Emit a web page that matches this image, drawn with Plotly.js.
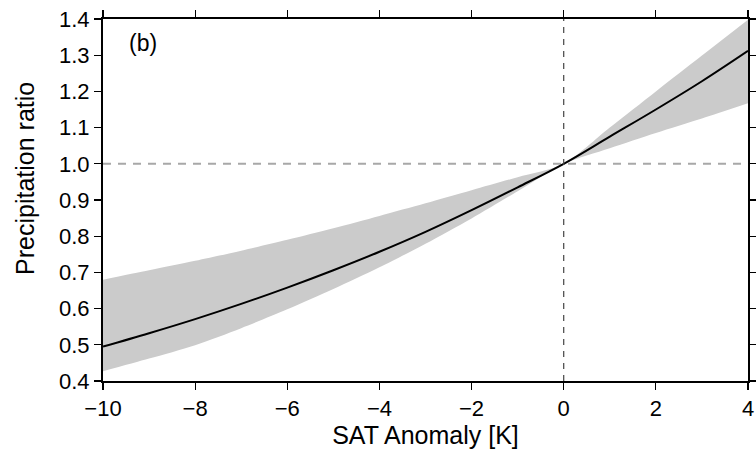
<!DOCTYPE html>
<html>
<head>
<meta charset="utf-8">
<script src="https://cdn.plot.ly/plotly-3.0.1.min.js"></script>
<style>html,body{margin:0;padding:0;background:#fff;}#chart{width:756px;height:452px;}</style>
</head>
<body>
<div id="chart"></div>
<script>
var satAnomaly = [-10, -9, -8, -7, -6, -5, -4, -3, -2, -1, 0, 1, 2, 3, 4];
var ratioMean  = [0.495, 0.532, 0.571, 0.613, 0.658, 0.706, 0.757, 0.812, 0.872, 0.935, 1.000, 1.075, 1.150, 1.228, 1.312];
var ratioUpper = [0.680, 0.706, 0.732, 0.760, 0.790, 0.822, 0.856, 0.891, 0.927, 0.963, 1.000, 1.100, 1.200, 1.299, 1.398];
var ratioLower = [0.427, 0.462, 0.499, 0.546, 0.598, 0.654, 0.714, 0.779, 0.849, 0.924, 1.000, 1.043, 1.085, 1.125, 1.167];
var xTicks = [-10, -8, -6, -4, -2, 0, 2, 4];
var yTicks = [0.4, 0.5, 0.6, 0.7, 0.8, 0.9, 1.0, 1.1, 1.2, 1.3, 1.4];
var panelLabel = "(b)";
var xTitle = "SAT Anomaly [K]";
var yTitle = "Precipitation ratio";

var font = "Liberation Sans, Arial, Helvetica, sans-serif";

var traces = [
  {x: satAnomaly, y: ratioLower, mode: "lines", line: {width: 0, color: "rgba(0,0,0,0)", shape: "spline", smoothing: 0.8}, hoverinfo: "skip", showlegend: false},
  {x: satAnomaly, y: ratioUpper, mode: "lines", fill: "tonexty", fillcolor: "#cbcbcb", line: {width: 0, color: "rgba(0,0,0,0)", shape: "spline", smoothing: 0.8}, hoverinfo: "skip", showlegend: false},
  {x: satAnomaly, y: ratioMean, mode: "lines", line: {color: "#000", width: 2, shape: "spline"}, showlegend: false}
];

var layout = {
  width: 756, height: 452,
  margin: {l: 103, r: 8, t: 19, b: 70.5},
  paper_bgcolor: "#fff", plot_bgcolor: "#fff",
  font: {family: font, color: "#000", size: 22},
  showlegend: false,
  xaxis: {
    range: [-10, 4], tickvals: xTicks, ticks: "outside", ticklen: 7, tickwidth: 1.2, tickcolor: "#000",
    showline: true, linecolor: "#000", linewidth: 2, mirror: "allticks", showgrid: false, zeroline: false,
    tickfont: {size: 22, family: font},
    title: {text: xTitle, font: {size: 25, family: font}, standoff: 6}
  },
  yaxis: {
    range: [0.4, 1.4], tickvals: yTicks, tickformat: ".1f", ticks: "outside", ticklen: 7, tickwidth: 1.2, tickcolor: "#000",
    showline: true, linecolor: "#000", linewidth: 2, mirror: "allticks", showgrid: false, zeroline: false,
    tickfont: {size: 22, family: font}
  },
  shapes: [
    {type: "line", xref: "paper", yref: "y", x0: 0, x1: 1, y0: 1, y1: 1, layer: "below",
     line: {color: "#a8a8a8", width: 2, dash: "8px,7px"}},
    {type: "line", xref: "x", yref: "paper", x0: 0, x1: 0, y0: 0, y1: 1, layer: "above",
     line: {color: "#444", width: 1.2, dash: "6px,6px"}}
  ],
  annotations: [
    {text: panelLabel, xref: "paper", yref: "paper", x: 0.037, y: 0.935, xanchor: "left", yanchor: "middle",
     showarrow: false, font: {size: 23, family: font}},
    {text: yTitle, xref: "paper", yref: "paper", x: -0.122, y: 0.559, xanchor: "center", yanchor: "middle",
     textangle: -90, showarrow: false, font: {size: 25, family: font}}
  ]
};

Plotly.newPlot("chart", traces, layout, {staticPlot: true, displayModeBar: false});
</script>
</body>
</html>
